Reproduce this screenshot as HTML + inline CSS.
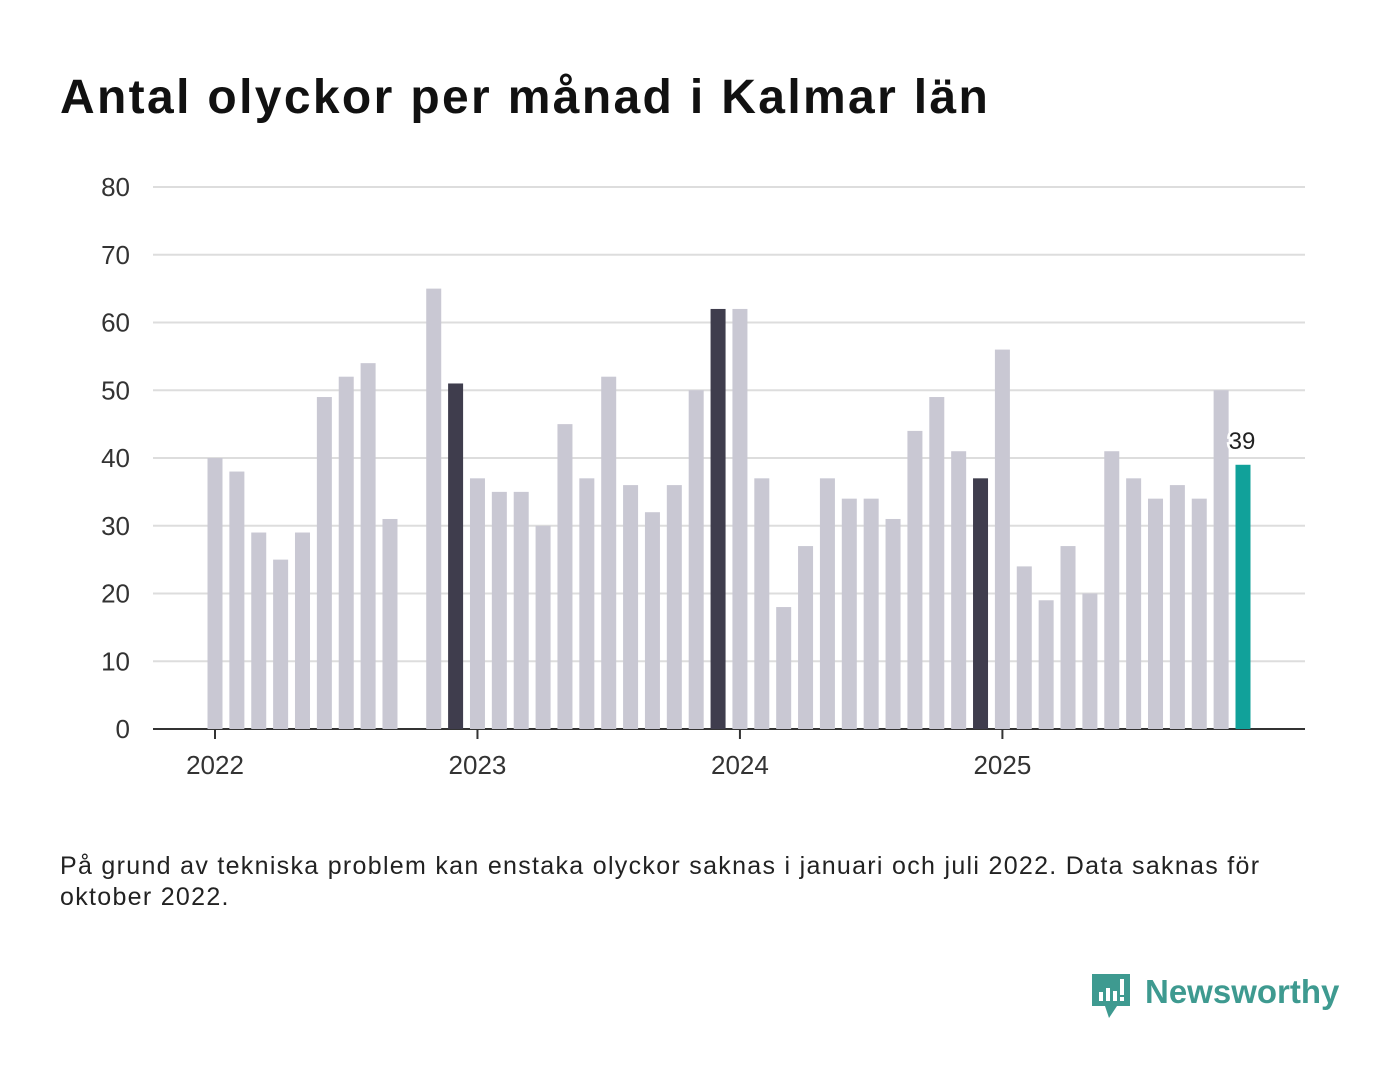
<!DOCTYPE html>
<html><head><meta charset="utf-8"><style>
body{margin:0;width:1400px;height:1080px;background:#fff;font-family:"Liberation Sans",sans-serif;position:relative;overflow:hidden}
h1{position:absolute;left:60px;top:70px;margin:0;font-size:48px;font-weight:bold;color:#111;letter-spacing:2.35px}
.note{position:absolute;left:60px;top:851px;font-size:25px;color:#222;line-height:31px;width:1320px;letter-spacing:1.3px}
</style></head><body>
<h1>Antal olyckor per månad i Kalmar län</h1>
<svg id="chart" width="1400" height="820" style="position:absolute;left:0;top:0"></svg>
<div class="note">På grund av tekniska problem kan enstaka olyckor saknas i januari och juli 2022. Data saknas för<br>oktober 2022.</div>
<svg style="position:absolute;left:1090px;top:972px" width="260" height="50">
<path d="M2 2h38v32h-13l-8 12-4-12H2z" fill="#3e9a90"/>
<rect x="9" y="20" width="4" height="9" fill="#fff"/><rect x="16" y="16" width="4" height="13" fill="#fff"/><rect x="23" y="19" width="4" height="10" fill="#fff"/><rect x="30" y="7" width="4" height="16" fill="#fff"/><rect x="30" y="25" width="4" height="4" fill="#fff"/>
<text x="55" y="31" font-size="33" font-weight="bold" fill="#3e9a90" font-family="Liberation Sans,sans-serif">Newsworthy</text>
</svg>
<script>
const months=["2022-01","2022-02","2022-03","2022-04","2022-05","2022-06","2022-07","2022-08","2022-09","2022-10","2022-11","2022-12","2023-01","2023-02","2023-03","2023-04","2023-05","2023-06","2023-07","2023-08","2023-09","2023-10","2023-11","2023-12","2024-01","2024-02","2024-03","2024-04","2024-05","2024-06","2024-07","2024-08","2024-09","2024-10","2024-11","2024-12","2025-01","2025-02","2025-03","2025-04","2025-05","2025-06","2025-07","2025-08","2025-09","2025-10","2025-11","2025-12"];
const values=[40,38,29,25,29,49,52,54,31,null,65,51,37,35,35,30,45,37,52,36,32,36,50,62,62,37,18,27,37,34,34,31,44,49,41,37,56,24,19,27,20,41,37,34,36,34,50,39];
const yTicks=[0,10,20,30,40,50,60,70,80];
const xTickLabels=["2022","2023","2024","2025"];
const xTickIdx=[0,12,24,36];
const svg=document.getElementById('chart');const NS="http://www.w3.org/2000/svg";
const y=v=>729-v*(729-187)/80;
const x=i=>215+i*(1243-215)/47;
function mk(t,a,p){const e=document.createElementNS(NS,t);for(const k in a)e.setAttribute(k,a[k]);(p||svg).appendChild(e);return e;}
yTicks.forEach(t=>{
 const l=mk('line',{x1:153,x2:1305,y1:y(t),y2:y(t),stroke:t===0?'#333':'#ddd','stroke-width':2});
 
 
 const tx=mk('text',{x:130,y:y(t)+9,'text-anchor':'end','font-size':26,fill:'#333'});tx.textContent=t;
 
 
});
values.forEach((v,i)=>{
 if(v==null)return;
 const dark=months[i].endsWith('-12')&&i<47;
 const last=i===values.length-1;
 const r=mk('rect',{x:x(i)-7.5,y:y(v),width:15,height:729-y(v),fill:last?'#11a19a':dark?'#3f3d4d':'#c9c8d3'});
 
 
 if(last){const t=mk('text',{x:x(i)-1,y:y(v)-16,'text-anchor':'middle','font-size':24,fill:'#222',stroke:'#fff','stroke-width':5,'paint-order':'stroke'});t.textContent=v;
 
 }
});
xTickIdx.forEach((ix,k)=>{
 const l=mk('line',{x1:x(ix),x2:x(ix),y1:729,y2:739,stroke:'#333','stroke-width':2});
 
 
 const t=mk('text',{x:x(ix),y:774,'text-anchor':'middle','font-size':26,fill:'#333'});t.textContent=xTickLabels[k];
 
 
});
</script>
</body></html>
